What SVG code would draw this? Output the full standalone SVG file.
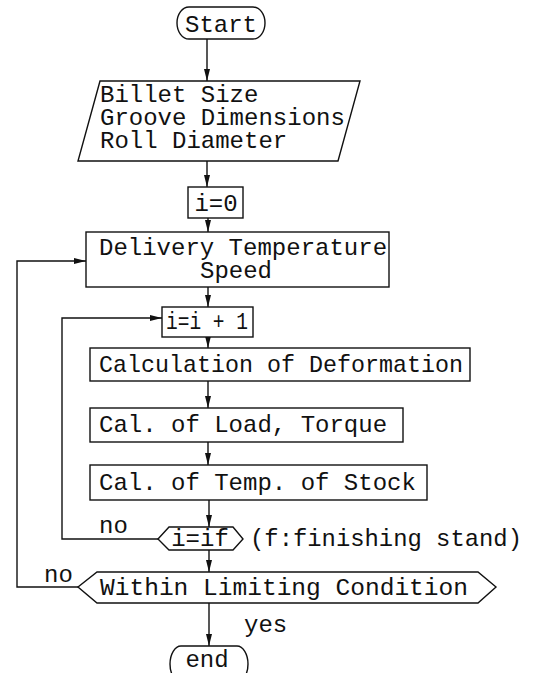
<svg xmlns="http://www.w3.org/2000/svg" width="533" height="673" viewBox="0 0 533 673">
<defs>
<style>
.b{fill:#fff;stroke:#111;stroke-width:1.4}
.t{font-family:"Liberation Mono","DejaVu Sans Mono",monospace;font-size:24px;fill:#111}
.c{stroke:#111;stroke-width:1.4;fill:none;marker-end:url(#ah)}
</style>
<marker id="ah" viewBox="0 0 12 8" refX="12" refY="4" markerWidth="12" markerHeight="8" markerUnits="userSpaceOnUse" orient="auto">
<path d="M0,1 L12,4 L0,7 Z" fill="#111"/>
</marker>
</defs>
<rect width="533" height="673" fill="#fff"/>
<g id="connectors">
<line class="c" x1="207" y1="39" x2="207" y2="81"/>
<line class="c" x1="207" y1="161" x2="207" y2="187"/>
<line class="c" x1="208" y1="218" x2="208" y2="232"/>
<line class="c" x1="208" y1="287" x2="208" y2="307"/>
<line class="c" x1="208" y1="337" x2="208" y2="348"/>
<line class="c" x1="208" y1="381" x2="208" y2="408"/>
<line class="c" x1="208" y1="442" x2="208" y2="465"/>
<line class="c" x1="209" y1="500" x2="209" y2="527"/>
<line class="c" x1="209" y1="550" x2="209" y2="572"/>
<line class="c" x1="209" y1="603" x2="209" y2="646"/>
<polyline class="c" points="158,539 62,539 62,318 162,318"/>
<polyline class="c" points="78,587 17,587 17,261 86,261"/>
<text class="t" x="99" y="533">no</text>
<text class="t" x="44" y="582">no</text>
<text class="t" x="244" y="632">yes</text>
</g>
<g id="start">
<rect class="b" x="177" y="7" width="88" height="32" rx="12" ry="16"/>
<text class="t" x="221" y="32" text-anchor="middle">Start</text>
</g>
<g id="input">
<polygon class="b" points="100,81 360,81 338,161 78,161"/>
<text class="t" x="100" y="102">Billet Size</text>
<text class="t" x="100" y="125">Groove Dimensions</text>
<text class="t" x="100" y="148">Roll Diameter</text>
</g>
<g id="init">
<rect class="b" x="188" y="187" width="55" height="31"/>
<text class="t" x="216" y="211" text-anchor="middle">i=0</text>
</g>
<g id="delivery">
<rect class="b" x="86" y="232" width="303" height="55"/>
<text class="t" x="99" y="255">Delivery Temperature</text>
<text class="t" x="236" y="278" text-anchor="middle">Speed</text>
</g>
<g id="increment">
<rect class="b" x="162" y="307" width="91" height="30"/>
<text class="t" x="166" y="329" textLength="82" lengthAdjust="spacingAndGlyphs">i=i + 1</text>
</g>
<g id="deformation">
<rect class="b" x="90" y="348" width="380" height="33"/>
<text class="t" x="99" y="372" textLength="364" lengthAdjust="spacingAndGlyphs">Calculation of Deformation</text>
</g>
<g id="load">
<rect class="b" x="90" y="408" width="313" height="34"/>
<text class="t" x="99" y="432">Cal. of Load, Torque</text>
</g>
<g id="temp">
<rect class="b" x="90" y="465" width="337" height="35"/>
<text class="t" x="99" y="490">Cal. of Temp. of Stock</text>
</g>
<g id="check-stand">
<polygon class="b" points="158,539 169,527 233,527 243,539 233,550 169,550"/>
<text class="t" x="200" y="546" text-anchor="middle">i=if</text>
<text class="t" x="250" y="546" textLength="272" lengthAdjust="spacingAndGlyphs">(f:finishing stand)</text>
</g>
<g id="limiting">
<polygon class="b" points="78,587 97,572 478,572 496,587 478,603 97,603"/>
<text class="t" x="100" y="595" textLength="368" lengthAdjust="spacingAndGlyphs">Within Limiting Condition</text>
</g>
<g id="end">
<rect class="b" x="170" y="646" width="78" height="36" rx="11" ry="18"/>
<text class="t" x="207" y="667" text-anchor="middle">end</text>
</g>
</svg>
